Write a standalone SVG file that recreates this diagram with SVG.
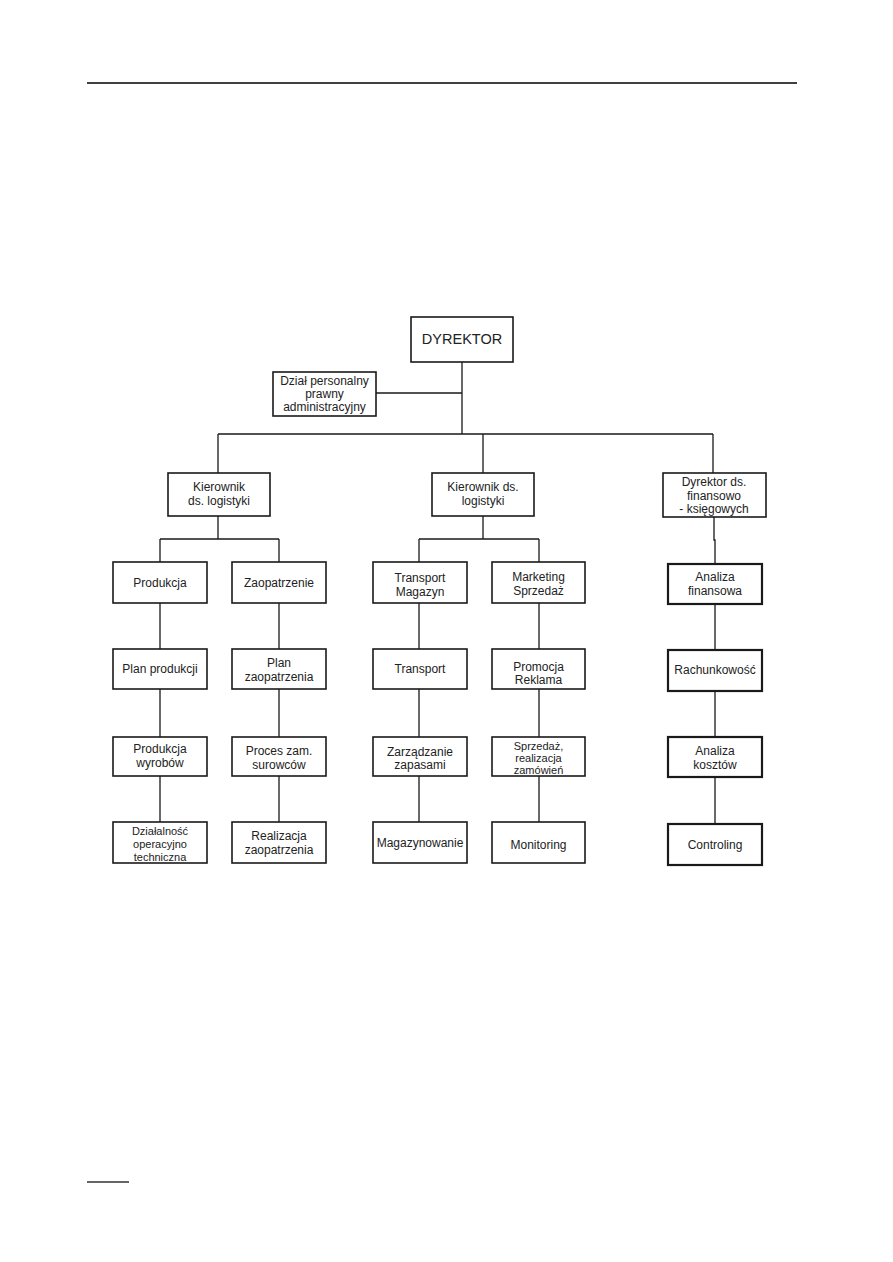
<svg xmlns="http://www.w3.org/2000/svg" width="893" height="1262" viewBox="0 0 893 1262">
<style>
.box{fill:#fff;stroke:#1a1a1a;stroke-width:1.6}
.thick{stroke-width:2.2}
.ln{stroke:#1a1a1a;stroke-width:1.3;fill:none}
text{font-family:"Liberation Sans",Arial,sans-serif;font-size:12px;fill:#222;text-anchor:middle;dominant-baseline:central}
.sm{font-size:11px}
.big{font-size:14.5px}
</style>
<rect width="893" height="1262" fill="#fff"/>
<line x1="87" y1="83" x2="797" y2="83" stroke="#000" stroke-width="1.3"/>
<line x1="87" y1="1182" x2="129" y2="1182" stroke="#333" stroke-width="1.3"/>
<g id="connectors">
<path class="ln" d="M462 362V434M376 393H462M218 434H713M218 434V473M483 434V473M713 434V473"/>
<path class="ln" d="M218 516V539M160 539H279M160 539V562M279 539V562"/>
<path class="ln" d="M483 516V539M419 539H539M419 539V562M539 539V562"/>
<path class="ln" d="M714 517V540H715V564"/>
<path class="ln" d="M160 603V649M160 689V737M160 776V822"/>
<path class="ln" d="M279 603V649M279 689V737M279 776V822"/>
<path class="ln" d="M419 603V649M419 689V737M419 776V822"/>
<path class="ln" d="M539 603V649M539 689V737M539 776V822"/>
<path class="ln" d="M715 604V650M715 691V737M715 777V824"/>
</g>
<g id="dyrektor"><rect class="box" x="411" y="317" width="102" height="45"/><text class="big" x="462" y="339">DYREKTOR</text></g>
<g id="dzial"><rect class="box" x="273" y="372" width="103" height="44"/><text x="324.5" y="381">Dział personalny</text><text x="324.5" y="394">prawny</text><text x="324.5" y="407">administracyjny</text></g>
<g id="kier1"><rect class="box" x="168" y="473" width="102" height="43"/><text x="219" y="487">Kierownik</text><text x="219" y="501">ds. logistyki</text></g>
<g id="kier2"><rect class="box" x="432" y="473" width="102" height="43"/><text x="483" y="487">Kierownik ds.</text><text x="483" y="501">logistyki</text></g>
<g id="dyrfin"><rect class="box" x="663" y="473" width="103" height="44"/><text x="714" y="482">Dyrektor ds.</text><text x="714" y="495.5">finansowo</text><text x="714" y="509">- księgowych</text></g>
<g id="produkcja"><rect class="box" x="113" y="562" width="94" height="41"/><text x="160" y="583">Produkcja</text></g>
<g id="zaopatrzenie"><rect class="box" x="232" y="562" width="94" height="41"/><text x="279" y="583">Zaopatrzenie</text></g>
<g id="transmag"><rect class="box" x="373" y="562" width="94" height="41"/><text x="420" y="578">Transport</text><text x="420" y="592">Magazyn</text></g>
<g id="marketing"><rect class="box" x="492" y="562" width="93" height="41"/><text x="538.5" y="577">Marketing</text><text x="538.5" y="591">Sprzedaż</text></g>
<g id="analfin"><rect class="box thick" x="668" y="564" width="94" height="40"/><text x="715" y="577">Analiza</text><text x="715" y="591">finansowa</text></g>
<g id="planprod"><rect class="box" x="113" y="649" width="94" height="40"/><text x="160" y="669">Plan produkcji</text></g>
<g id="planzaop"><rect class="box" x="232" y="649" width="94" height="40"/><text x="279" y="663">Plan</text><text x="279" y="677">zaopatrzenia</text></g>
<g id="transport"><rect class="box" x="373" y="649" width="94" height="40"/><text x="420" y="669">Transport</text></g>
<g id="promocja"><rect class="box" x="492" y="649" width="93" height="40"/><text x="538.5" y="667">Promocja</text><text x="538.5" y="680">Reklama</text></g>
<g id="rachunkowosc"><rect class="box thick" x="668" y="650" width="94" height="41"/><text x="715" y="669.5">Rachunkowość</text></g>
<g id="prodwyr"><rect class="box" x="113" y="737" width="94" height="39"/><text x="160" y="748.5">Produkcja</text><text x="160" y="763">wyrobów</text></g>
<g id="proces"><rect class="box" x="232" y="737" width="94" height="39"/><text x="279" y="751">Proces zam.</text><text x="279" y="765">surowców</text></g>
<g id="zarzadzanie"><rect class="box" x="373" y="737" width="94" height="39"/><text x="420" y="752">Zarządzanie</text><text x="420" y="765">zapasami</text></g>
<g id="sprzedaz"><rect class="box" x="492" y="737" width="93" height="39"/><text class="sm" x="538.5" y="746">Sprzedaż,</text><text class="sm" x="538.5" y="758">realizacja</text><text class="sm" x="538.5" y="769.5">zamówień</text></g>
<g id="analkoszt"><rect class="box thick" x="668" y="737" width="94" height="40"/><text x="715" y="751">Analiza</text><text x="715" y="765">kosztów</text></g>
<g id="dzialalnosc"><rect class="box" x="113" y="822" width="94" height="41"/><text class="sm" x="160" y="831">Działalność</text><text class="sm" x="160" y="844">operacyjno</text><text class="sm" x="160" y="857">techniczna</text></g>
<g id="realizacja"><rect class="box" x="232" y="822" width="94" height="41"/><text x="279" y="836">Realizacja</text><text x="279" y="850">zaopatrzenia</text></g>
<g id="magazynowanie"><rect class="box" x="373" y="822" width="94" height="41"/><text x="420" y="843">Magazynowanie</text></g>
<g id="monitoring"><rect class="box" x="492" y="822" width="93" height="41"/><text x="538.5" y="845">Monitoring</text></g>
<g id="controling"><rect class="box thick" x="668" y="824" width="94" height="41"/><text x="715" y="844.5">Controling</text></g>
</svg>
